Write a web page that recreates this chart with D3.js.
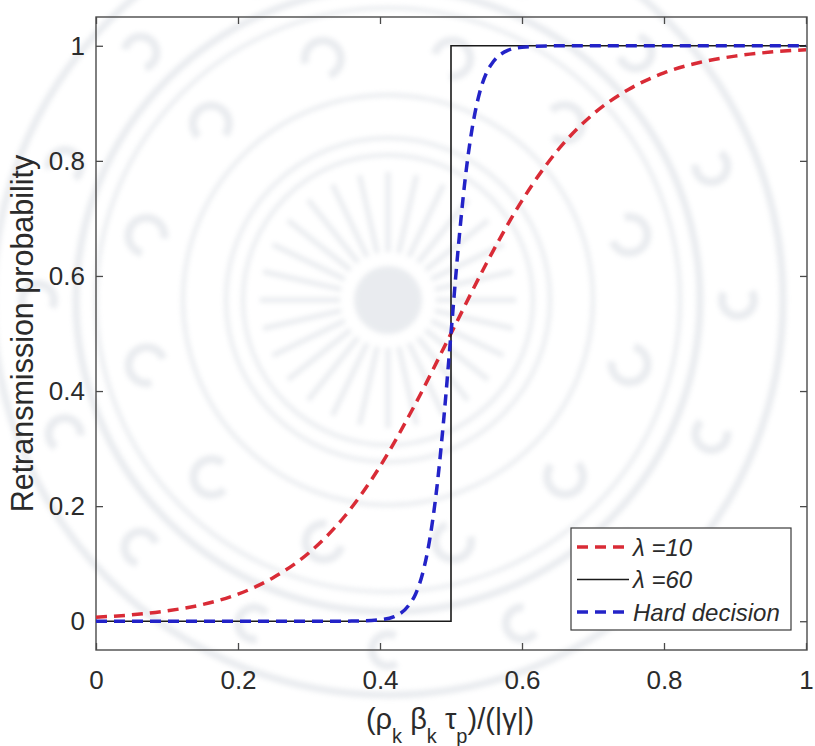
<!DOCTYPE html>
<html>
<head>
<meta charset="utf-8">
<script src="https://cdn.jsdelivr.net/npm/d3@7"></script>
<style>
  html, body { margin: 0; padding: 0; background: #fff; }
  svg { display: block; font-family: "Liberation Sans", Arial, Helvetica, sans-serif; }
</style>
</head>
<body>
<svg id="chart" width="815" height="746"></svg>
<script>
// Axis ticks
const xTicks = [0, 0.2, 0.4, 0.6, 0.8, 1];
const yTicks = [0, 0.2, 0.4, 0.6, 0.8, 1];

// Soft decision, lambda = 10
const softX10 = [0, 0.05, 0.1, 0.15, 0.2, 0.25, 0.3, 0.35, 0.4, 0.45, 0.5,
                 0.55, 0.6, 0.65, 0.7, 0.75, 0.8, 0.85, 0.9, 0.95, 1];
const softY10 = [0.007, 0.011, 0.018, 0.029, 0.047, 0.076, 0.119, 0.182, 0.269, 0.378, 0.5,
                 0.622, 0.731, 0.818, 0.881, 0.924, 0.953, 0.971, 0.982, 0.989, 0.993];

// Step curve, lambda = 60
const stepX = [0, 0.5, 0.5, 1];
const stepY = [0, 0, 1, 1];

// Hard decision curve
const hardX = [0, 0.1, 0.2, 0.3, 0.36, 0.4, 0.42, 0.44, 0.45, 0.46, 0.47, 0.48, 0.49, 0.5,
               0.51, 0.52, 0.53, 0.54, 0.55, 0.56, 0.58, 0.6, 0.64, 0.7, 0.8, 0.9, 1];
const hardY = [0, 0, 0, 0, 0.0002, 0.0025, 0.008, 0.027, 0.047, 0.083, 0.142, 0.231, 0.354, 0.5,
               0.646, 0.769, 0.858, 0.917, 0.953, 0.973, 0.992, 0.9975, 0.9998, 1, 1, 1, 1];

const seriesNames = ["\u03bb =10", "\u03bb =60", "Hard decision"];

const svg = d3.select("#chart");
const plot = { left: 96, top: 17, right: 807, bottom: 650 };

const x = d3.scaleLinear().domain([0, 1]).range([plot.left, plot.left + 710]);
const y = d3.scaleLinear().domain([-0.05, 1.05]).range([plot.bottom, plot.top]);

// Faint ornamental watermark behind the plot
const defs = svg.append("defs");
defs.append("filter").attr("id", "soft")
  .append("feGaussianBlur").attr("stdDeviation", 2.5);

const wm = svg.append("g")
  .attr("filter", "url(#soft)")
  .attr("opacity", 0.45)
  .attr("transform", "translate(388,300)");
const wmColor = "#cfd4dc";
wm.append("circle").attr("r", 34).attr("fill", wmColor);
d3.range(28).forEach(i => {
  const a = i / 28 * 2 * Math.PI;
  wm.append("line")
    .attr("x1", Math.cos(a) * 48).attr("y1", Math.sin(a) * 48)
    .attr("x2", Math.cos(a) * 128).attr("y2", Math.sin(a) * 128)
    .attr("stroke", wmColor).attr("stroke-width", 5);
});
[145, 162, 205, 292, 312, 395].forEach(r => {
  wm.append("circle").attr("r", r).attr("fill", "none")
    .attr("stroke", wmColor).attr("stroke-width", r > 300 ? 7 : 4);
});
d3.range(12).forEach(i => {
  const a = i / 12 * 2 * Math.PI + 0.26;
  const cx = Math.cos(a) * 250, cy = Math.sin(a) * 250;
  wm.append("path")
    .attr("d", d3.arc()({ innerRadius: 14, outerRadius: 22, startAngle: a, endAngle: a + 4.6 }))
    .attr("transform", `translate(${cx},${cy})`)
    .attr("fill", wmColor);
});
d3.range(16).forEach(i => {
  const a = i / 16 * 2 * Math.PI;
  const cx = Math.cos(a) * 350, cy = Math.sin(a) * 350;
  wm.append("path")
    .attr("d", d3.arc()({ innerRadius: 12, outerRadius: 20, startAngle: a + 1, endAngle: a + 5.2 }))
    .attr("transform", `translate(${cx},${cy})`)
    .attr("fill", wmColor);
});

// Axes box
svg.append("rect")
  .attr("x", plot.left).attr("y", plot.top)
  .attr("width", plot.right - plot.left).attr("height", plot.bottom - plot.top)
  .attr("fill", "none").attr("stroke", "#4a4a4a").attr("stroke-width", 1.4);

const fmt = d => d === 0 ? "0" : d === 1 ? "1" : d3.format(".1f")(d);
const tickColor = "#4a4a4a";
const labelColor = "#2b2b2b";

function styleAxis(g, withText) {
  g.select(".domain").remove();
  g.selectAll(".tick line").attr("stroke", tickColor).attr("stroke-width", 1.3);
  if (withText) {
    g.selectAll(".tick text").attr("fill", labelColor).attr("font-size", 26);
  } else {
    g.selectAll(".tick text").remove();
  }
}

svg.append("g").attr("transform", `translate(0,${plot.bottom})`)
  .call(d3.axisBottom(x).tickValues(xTicks).tickFormat(fmt).tickSize(-7).tickPadding(21))
  .call(g => styleAxis(g, true));
svg.append("g").attr("transform", `translate(0,${plot.top})`)
  .call(d3.axisTop(x).tickValues(xTicks).tickSize(-7))
  .call(g => styleAxis(g, false));
svg.append("g").attr("transform", `translate(${plot.left},0)`)
  .call(d3.axisLeft(y).tickValues(yTicks).tickFormat(fmt).tickSize(-7).tickPadding(11))
  .call(g => styleAxis(g, true));
svg.append("g").attr("transform", `translate(${plot.right},0)`)
  .call(d3.axisRight(y).tickValues(yTicks).tickSize(-7))
  .call(g => styleAxis(g, false));

// Axis titles
svg.append("text")
  .attr("transform", `translate(33,${(plot.top + plot.bottom) / 2}) rotate(-90)`)
  .attr("text-anchor", "middle")
  .attr("font-size", 30.5)
  .attr("fill", labelColor)
  .text("Retransmission probability");

const xt = svg.append("text")
  .attr("x", 450).attr("y", 729)
  .attr("text-anchor", "middle")
  .attr("font-size", 29)
  .attr("fill", labelColor);
const sub = (t) => xt.append("tspan").attr("font-size", 20).attr("dy", 14).text(t);
const main = (t) => xt.append("tspan").attr("dy", -14).text(t);
xt.append("tspan").text("(\u03c1");
sub("k");
main(" \u03b2");
sub("k");
main(" \u03c4");
sub("p");
main(")/(|\u03b3|)");

// Curves
const line = d3.line().x(d => x(d[0])).y(d => y(d[1]));
const smooth = d3.line().x(d => x(d[0])).y(d => y(d[1])).curve(d3.curveMonotoneX);

const series = [
  { name: seriesNames[0], pts: d3.zip(softX10, softY10), color: "#d92b36", width: 3.5, dash: "11,7", gen: smooth },
  { name: seriesNames[1], pts: d3.zip(stepX, stepY), color: "#1a1a1a", width: 1.6, dash: null, gen: line },
  { name: seriesNames[2], pts: d3.zip(hardX, hardY), color: "#2323c8", width: 3.5, dash: "11,7", gen: smooth }
];

const lines = svg.append("g");
series.forEach(s => {
  lines.append("path")
    .attr("d", s.gen(s.pts))
    .attr("fill", "none")
    .attr("stroke", s.color)
    .attr("stroke-width", s.width)
    .attr("stroke-dasharray", s.dash);
});

// Legend
const lg = svg.append("g").attr("transform", "translate(571,528)");
lg.append("rect").attr("width", 220).attr("height", 102)
  .attr("fill", "#fff").attr("stroke", "#3a3a3a").attr("stroke-width", 1.2);
series.forEach((s, i) => {
  const cy = 19 + i * 32.5;
  lg.append("line")
    .attr("x1", 6).attr("x2", 58).attr("y1", cy).attr("y2", cy)
    .attr("stroke", s.color).attr("stroke-width", s.width)
    .attr("stroke-dasharray", s.dash);
  lg.append("text")
    .attr("x", 62).attr("y", cy).attr("dy", "0.36em")
    .attr("font-size", 24).attr("font-style", "italic")
    .attr("fill", labelColor)
    .text(s.name);
});
</script>
</body>
</html>
